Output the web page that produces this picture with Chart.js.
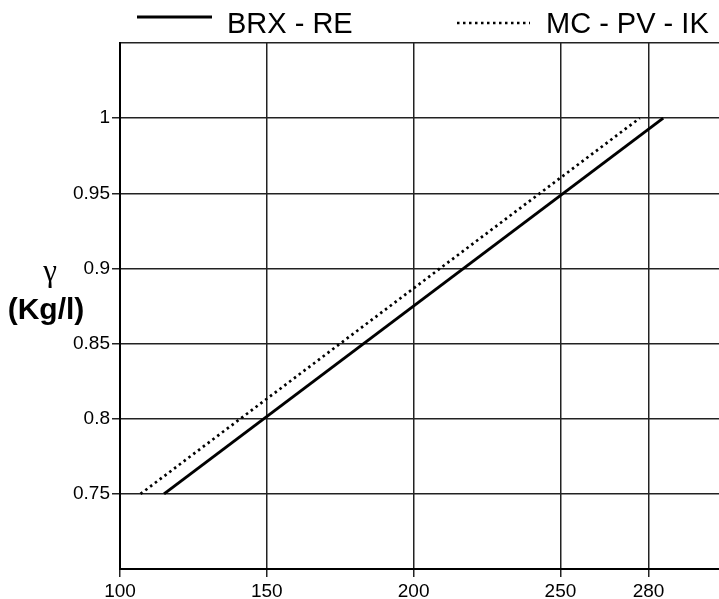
<!DOCTYPE html>
<html>
<head>
<meta charset="utf-8">
<script src="https://cdn.jsdelivr.net/npm/chart.js@4.4.1/dist/chart.umd.min.js"></script>
<style>
  body { margin: 0; background: #fff; }
  #wrap { width: 719px; height: 599px; }
</style>
</head>
<body>
<div id="wrap"><canvas id="grafico" width="719" height="599"></canvas></div>
<script>
// datos
const xTicks = [100, 150, 200, 250, 280];
const yTicks = [0.70, 0.75, 0.80, 0.85, 0.90, 0.95, 1.00, 1.05];
const yLabels = [0.75, 0.80, 0.85, 0.90, 0.95, 1.00];

const brxX = [115, 285];
const brxY = [0.75, 1.00];
const mcX = [107, 277];
const mcY = [0.75, 1.00];

const fuente = 'Liberation Sans, Arial, Helvetica, sans-serif';

function puntos(xs, ys) {
  return xs.map((x, i) => ({ x: x, y: ys[i] }));
}

function esEtiqueta(v) {
  return yLabels.some(l => Math.abs(l - v) < 1e-6);
}

// leyenda y titulo del eje y dibujados a mano
const extras = {
  id: 'extras',
  afterDraw(chart) {
    const ctx = chart.ctx;
    const ds = chart.data.datasets;
    const items = [
      { x0: 137, x1: 212, ly: 17, tx: 227 },
      { x0: 457, x1: 530, ly: 23, tx: 546 }
    ];
    ctx.save();
    items.forEach((it, i) => {
      ctx.beginPath();
      ctx.strokeStyle = '#000';
      ctx.lineWidth = ds[i].borderWidth;
      ctx.setLineDash(ds[i].borderDash || []);
      ctx.moveTo(it.x0, it.ly);
      ctx.lineTo(it.x1, it.ly);
      ctx.stroke();
      ctx.setLineDash([]);
      ctx.fillStyle = '#000';
      ctx.font = '29px ' + fuente;
      ctx.textBaseline = 'alphabetic';
      ctx.textAlign = 'left';
      ctx.fillText(ds[i].label, it.tx, 33);
    });
    ctx.textAlign = 'center';
    ctx.font = '31px "Liberation Serif", "DejaVu Serif", serif';
    ctx.fillText('\u03B3', 50, 281);
    ctx.font = 'bold 30px ' + fuente;
    ctx.fillText('(Kg/l)', 46, 319);
    ctx.restore();
  }
};

const ctx = document.getElementById('grafico');
new Chart(ctx, {
  type: 'scatter',
  data: {
    datasets: [
      {
        label: 'BRX - RE',
        data: puntos(brxX, brxY),
        showLine: true,
        borderColor: '#000',
        borderWidth: 3,
        pointRadius: 0
      },
      {
        label: 'MC - PV - IK',
        data: puntos(mcX, mcY),
        showLine: true,
        borderColor: '#000',
        borderWidth: 2.7,
        borderDash: [2.5, 3.5],
        pointRadius: 0
      }
    ]
  },
  options: {
    responsive: false,
    animation: false,
    layout: { padding: { top: 43, right: 0, left: 0, bottom: 0 } },
    plugins: {
      legend: { display: false },
      tooltip: { enabled: false }
    },
    scales: {
      x: {
        type: 'linear',
        min: 100,
        max: 304,
        afterBuildTicks: (s) => { s.ticks = xTicks.map(v => ({ value: v })); },
        afterFit: (s) => { s.height = 30; },
        grid: { color: '#222', lineWidth: 1.5, tickLength: 8 },
        border: { color: '#000', width: 2 },
        ticks: {
          color: '#000',
          font: { family: fuente, size: 19 },
          padding: 3,
          maxRotation: 0,
          autoSkip: false,
          callback: (v) => String(v)
        }
      },
      y: {
        min: 0.70,
        max: 1.05,
        afterBuildTicks: (s) => { s.ticks = yTicks.map(v => ({ value: v })); },
        afterFit: (s) => { s.width = 120; },
        grid: {
          color: '#222',
          lineWidth: 1.5,
          tickLength: 8,
          tickColor: (c) => (c.tick && esEtiqueta(c.tick.value)) ? '#222' : 'rgba(0,0,0,0)'
        },
        border: { color: '#000', width: 2 },
        ticks: {
          color: '#000',
          font: { family: fuente, size: 19 },
          padding: 2,
          autoSkip: false,
          callback: (v) => esEtiqueta(v) ? String(Math.round(v * 100) / 100) : ''
        }
      }
    }
  },
  plugins: [extras]
});
</script>
</body>
</html>
